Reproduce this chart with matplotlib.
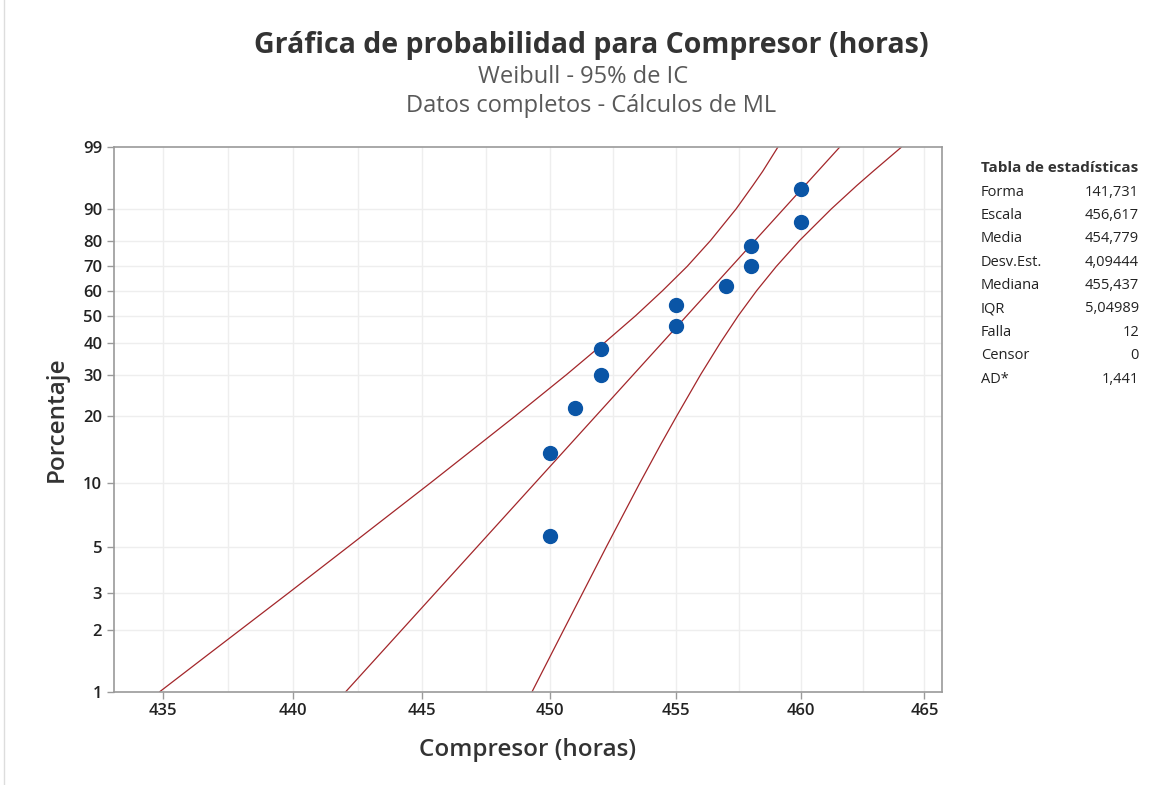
import numpy as np
import matplotlib
matplotlib.use('Agg')
import matplotlib.pyplot as plt
from matplotlib.lines import Line2D
from matplotlib.ticker import FixedLocator, FixedFormatter

plt.rcParams['font.family'] = ['Open Sans', 'DejaVu Sans']

# observed failures and their plotted percentages
hours = [450, 450, 451, 452, 452, 455, 455, 457, 458, 458, 460, 460]
pct = [5.6, 13.7, 21.8, 29.8, 37.9, 46.0, 54.0, 62.1, 70.2, 78.2, 86.3, 94.4]

# ML fit line (straight on Weibull paper)
fit_pct = [1, 99]
fit_hours = [442.03, 461.56]

# 95% CI bounds (smoothed)
ci_pct = [1, 1.5, 2, 3, 5, 7, 10, 15, 20, 30, 40, 50, 60, 70, 80, 90, 95, 97, 99]
ci_left = [434.89, 436.69, 437.98, 439.81, 442.12, 443.66, 445.32, 447.23, 448.63, 450.66,
           452.16, 453.40, 454.46, 455.44, 456.37, 457.40, 458.07, 458.46, 459.07]
ci_right = [449.30, 450.03, 450.55, 451.29, 452.23, 452.87, 453.56, 454.39, 455.02, 455.98,
            456.77, 457.49, 458.22, 459.01, 459.94, 461.23, 462.26, 462.91, 464.06]

x_ticks = [435, 440, 445, 450, 455, 460, 465]
x_grid = [435, 437.5, 440, 442.5, 445, 447.5, 450, 452.5, 455, 457.5, 460, 462.5, 465]
y_ticks = [1, 2, 3, 5, 10, 20, 30, 40, 50, 60, 70, 80, 90, 99]

stat_names = ['Forma', 'Escala', 'Media', 'Desv.Est.', 'Mediana', 'IQR', 'Falla', 'Censor', 'AD*']
stat_vals = ['141,731', '456,617', '454,779', '4,09444', '455,437', '5,04989', '12', '0', '1,441']


def wb_fwd(p):
    p = np.clip(np.asarray(p, dtype=float), 1e-6, 100 - 1e-6)
    return np.log(-np.log(1 - p / 100.0))


def wb_inv(w):
    return 100.0 * (1 - np.exp(-np.exp(np.asarray(w, dtype=float))))


fig = plt.figure(figsize=(11.73, 7.85), dpi=100)
ax = fig.add_axes([0.0972, 0.1189, 0.7059, 0.6935])

ax.set_xscale('log')
ax.set_yscale('function', functions=(wb_fwd, wb_inv))
ax.set_xlim(433.15, 465.72)
ax.set_ylim(1, 99)

grid_c = '#eeeeee'
for g in x_grid:
    ax.axvline(g, color=grid_c, lw=1, zorder=0)
for g in y_ticks[1:-1]:
    ax.axhline(g, color=grid_c, lw=1, zorder=0)

red = '#a3262a'
ax.plot(ci_left, ci_pct, color=red, lw=0.9, zorder=2)
ax.plot(ci_right, ci_pct, color=red, lw=0.9, zorder=2)
ax.plot(fit_hours, fit_pct, color=red, lw=0.9, zorder=2)
ax.plot(hours, pct, 'o', color='#0a55a6', ms=10, mec='#0a55a6', zorder=3)

ax.xaxis.set_major_locator(FixedLocator(x_ticks))
ax.xaxis.set_major_formatter(FixedFormatter([str(t) for t in x_ticks]))
ax.xaxis.set_minor_locator(FixedLocator([]))
ax.yaxis.set_major_locator(FixedLocator(y_ticks))
ax.yaxis.set_major_formatter(FixedFormatter([str(t) for t in y_ticks]))
ax.yaxis.set_minor_locator(FixedLocator([]))

for s in ax.spines.values():
    s.set_color('#9a9a9a')
    s.set_linewidth(1.2)
ax.tick_params(axis='both', which='major', length=5, width=1, color='#9a9a9a',
               labelsize=12, labelcolor='#222222', direction='out')
for lab in ax.get_xticklabels() + ax.get_yticklabels():
    lab.set_fontweight('semibold')

ax.set_xlabel('Compresor (horas)', fontsize=17.5, color='#333333', fontweight='semibold', labelpad=13)
ax.set_ylabel('Porcentaje', fontsize=17.5, color='#333333', fontweight='semibold', labelpad=10)

fig.text(0.504, 0.9415, 'Gráfica de probabilidad para Compresor (horas)', ha='center', va='center',
         fontsize=20.5, fontweight='bold', color='#333333')
fig.text(0.497, 0.9015, 'Weibull - 95% de IC', ha='center', va='center', fontsize=17,
         color='#595959')
fig.text(0.504, 0.865, 'Datos completos - Cálculos de ML', ha='center', va='center', fontsize=17,
         color='#595959')

# stats table on the right
fig.text(981 / 1173, 1 - 168 / 785, 'Tabla de estadísticas', ha='left', va='center',
         fontsize=11, fontweight='bold', color='#333333')
for i, (n, v) in enumerate(zip(stat_names, stat_vals)):
    yy = 1 - (192 + i * 23.4) / 785
    fig.text(981 / 1173, yy, n, ha='left', va='center', fontsize=10.5, color='#222222')
    fig.text(1139 / 1173, yy, v, ha='right', va='center', fontsize=10.5, color='#222222')

fig.add_artist(Line2D([4 / 1173, 4 / 1173], [0, 1], transform=fig.transFigure, color='#dddddd', lw=1))

fig.savefig('out.png', dpi=100)
